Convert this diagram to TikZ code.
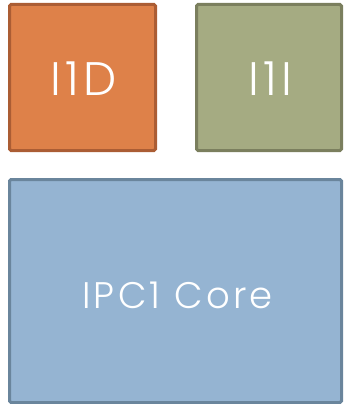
\documentclass[tikz,border=0pt]{standalone}
\usepackage{fontspec}
\setmainfont{Poppins Light}[LetterSpace=9]
\definecolor{orfill}{HTML}{DE8149}
\definecolor{ordraw}{HTML}{AB5D34}
\definecolor{grfill}{HTML}{A5AB82}
\definecolor{grdraw}{HTML}{7B7F5E}
\definecolor{blfill}{HTML}{95B4D2}
\definecolor{bldraw}{HTML}{6A859C}
\begin{document}
\begin{tikzpicture}[x=1pt,y=-1pt,
  blk/.style={line width=3pt,rounded corners=1.5pt},
  lbl/.style={text=white,inner sep=0pt}]
\useasboundingbox (0,0) rectangle (343,404);
\draw[blk,fill=orfill,draw=ordraw] (9.5,4.5) rectangle (155.5,150.5);
\draw[blk,fill=grfill,draw=grdraw] (196.5,4.5) rectangle (341.5,150.5);
\draw[blk,fill=blfill,draw=bldraw] (9.5,179.5) rectangle (341.5,402.5);
\node[lbl,font=\fontsize{47}{47}\selectfont] (d) at (83.5,79) {I1D};
\node[lbl,font=\fontsize{47}{47}\selectfont] (i) at (270.5,79) {I1I};
\node[lbl,font=\fontsize{37}{37}\selectfont] (c) at (177.5,295) {IPC1 Core};
\end{tikzpicture}
\end{document}
